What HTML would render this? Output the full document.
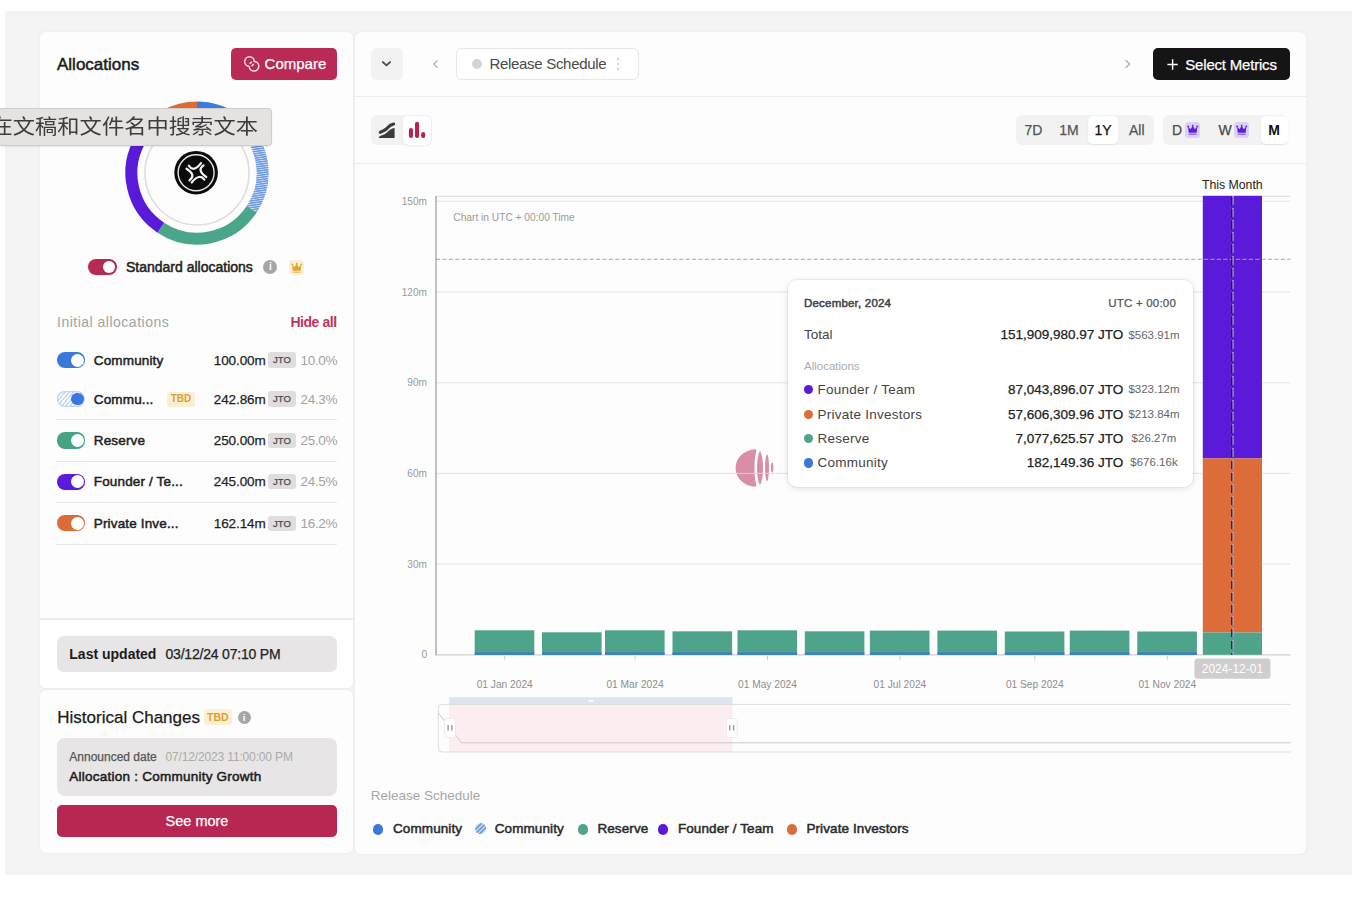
<!DOCTYPE html>
<html><head><meta charset="utf-8"><style>
html,body{margin:0;padding:0;}
body{width:1368px;height:898px;position:relative;overflow:hidden;background:#fff;font-family:"Liberation Sans", Arial, sans-serif;}
.t{position:absolute;line-height:1;white-space:nowrap;}
.r{position:absolute;}
</style></head><body>
<div class="r" style="left:5.00px;top:11.00px;width:1347.00px;height:864.00px;background:#f4f4f4;"></div>
<div class="r" style="left:40.00px;top:32.00px;width:313.00px;height:656.00px;background:#fdfdfd;border-radius:6px;box-shadow:0 0 2px rgba(0,0,0,0.05),0 0 6px rgba(0,0,0,0.025);"></div>
<div class="r" style="left:40.00px;top:619.00px;width:313.00px;height:69.00px;background:#ffffff;border-radius:0 0 6px 6px;"></div>
<div class="r" style="left:40.00px;top:690.00px;width:313.00px;height:163.00px;background:#fdfdfd;border-radius:6px;box-shadow:0 0 2px rgba(0,0,0,0.05),0 0 6px rgba(0,0,0,0.025);"></div>
<div class="r" style="left:354.60px;top:32.00px;width:951.70px;height:821.50px;background:#fdfdfd;border-radius:6px;box-shadow:0 0 2px rgba(0,0,0,0.05),0 0 6px rgba(0,0,0,0.025);"></div>
<div class="t" style="top:55.61px;font-size:17px;color:#1b1b1b;-webkit-text-stroke:0.5px currentColor;letter-spacing:0px;left:57.00px;">Allocations</div>
<div class="r" style="left:231.30px;top:47.80px;width:105.40px;height:32.20px;background:#b92a55;border-radius:5px;"></div>
<svg class="r" style="left:238px;top:52px" width="26" height="24" viewBox="238 52 26 24"><g fill="none" stroke="#f7e6ec" stroke-width="1.5"><path d="M254.3,61.41 A4.8,4.8 0 1 0 249.2,66.39 A4.8,4.8 0 1 0 254.3,61.41 Z"/><path d="M254.3,61.41 A4.8,4.8 0 0 1 249.2,66.39" stroke-dasharray="0 2.6 2.8 10"/><path d="M249.2,66.39 A4.8,4.8 0 0 1 254.3,61.41" stroke-dasharray="0 2.6 2.8 10"/></g></svg>
<div class="t" style="top:56.40px;font-size:15px;color:#fff;-webkit-text-stroke:0.25px currentColor;left:264.60px;">Compare</div>
<svg class="r" style="left:0;top:0" width="1368" height="898" viewBox="0 0 1368 898"><defs><pattern id="hatch" patternUnits="userSpaceOnUse" width="4" height="2.2" patternTransform="rotate(-8)"><rect width="4" height="2.2" fill="#d3e0f8"/><rect width="4" height="1.4" fill="#6a97e3"/></pattern></defs><path d="M197.00,107.40 A65.6,65.6 0 0 1 235.56,119.93" fill="none" stroke="#3b7ddd" stroke-width="11.999999999999993"/><path d="M235.56,119.93 A65.6,65.6 0 0 1 251.70,209.21" fill="none" stroke="url(#hatch)" stroke-width="11.999999999999993"/><path d="M251.70,209.21 A65.6,65.6 0 0 1 160.79,227.70" fill="none" stroke="#4aa58a" stroke-width="11.999999999999993"/><path d="M160.79,227.70 A65.6,65.6 0 0 1 141.19,138.53" fill="none" stroke="#5a1ad9" stroke-width="11.999999999999993"/><path d="M141.19,138.53 A65.6,65.6 0 0 1 197.00,107.40" fill="none" stroke="#de6b37" stroke-width="11.999999999999993"/><circle cx="197" cy="173" r="52" fill="none" stroke="#dedede" stroke-width="1.6"/><circle cx="196.1" cy="172.7" r="21.8" fill="#0a0a0a"/><circle cx="196.1" cy="172.7" r="18" fill="none" stroke="#e8e8e8" stroke-width="1.4"/><path d="M188.8,165.7 Q193.7,172.95 201,163.2 M203.6,165.4 Q196.3,169.8 206.2,177 M204.3,179.6 Q199.6,173.05 191.7,182.5 M189.4,180.3 Q196.65,175.1 186.5,168.7" fill="none" stroke="#f2f2f2" stroke-width="2.2" stroke-linecap="round"/></svg>
<div class="r" style="left:-2px;top:107.5px;width:274px;height:38.8px;background:#e6e2e1;border:1px solid #cfcbca;border-radius:4px;box-sizing:border-box;box-shadow:0 1px 2px rgba(0,0,0,0.08)"></div>
<div class="t" style="left:-9.6px;top:113.6px;font-size:22.3px;line-height:1;color:#3d3d3d;font-family:'Noto Sans CJK SC',sans-serif;transform:scale(1,0.915);transform-origin:0 50%">在文稿和文件名中搜索文本</div>
<div class="r" style="left:88.40px;top:258.60px;width:29.00px;height:16.20px;background:#b72a53;border-radius:8.1px;"></div>
<div class="r" style="left:103.40px;top:260.80px;width:12.00px;height:12.00px;background:#fff;border-radius:6px;"></div>
<div class="t" style="top:260.15px;font-size:14px;color:#222;-webkit-text-stroke:0.5px currentColor;letter-spacing:0px;left:126.00px;">Standard allocations</div>
<div class="r" style="left:263.4px;top:260px;width:14px;height:14px;border-radius:7px;background:#a6a6a6;color:#fff;font:bold 10px/14px 'Liberation Sans',sans-serif;text-align:center">i</div>
<div class="r" style="left:288.80px;top:259.60px;width:15.40px;height:15.00px;background:#fcf1d6;border-radius:3px;"></div>
<svg class="r" style="left:288.8px;top:259.6px" width="16" height="16" viewBox="0 0 16 16"><g fill="#e2a52c"><path d="M3.1,4.6 L5.5,7.3 L7.7,3.8 L9.9,7.3 L12.3,4.6 L11.7,10.7 L3.7,10.7 Z"/><circle cx="3.1" cy="4.4" r="0.9"/><circle cx="7.7" cy="3.6" r="0.9"/><circle cx="12.3" cy="4.4" r="0.9"/><rect x="3.7" y="11.5" width="8" height="1.4" rx="0.5" opacity="0.55"/></g></svg>
<div class="t" style="top:315.15px;font-size:14px;color:#a3a3a3;letter-spacing:0.5px;left:57.00px;">Initial allocations</div>
<div class="t" style="top:315.15px;font-size:14px;color:#bd3460;font-weight:700;letter-spacing:-0.45px;right:1031.40px;">Hide all</div>
<div class="r" style="left:56.60px;top:351.90px;width:28.50px;height:16.20px;background:#3a78dc;border-radius:8.1px;"></div>
<div class="r" style="left:70.90px;top:353.50px;width:13.00px;height:13.00px;background:#fff;border-radius:6.5px;"></div>
<div class="t" style="top:353.57px;font-size:13.5px;color:#1e1e1e;-webkit-text-stroke:0.5px currentColor;letter-spacing:0.15px;left:93.80px;">Community</div>
<div class="t" style="top:353.57px;font-size:13.5px;color:#1f1f1f;-webkit-text-stroke:0.25px currentColor;letter-spacing:-0.1px;left:213.80px;">100.00m</div>
<div class="r" style="left:267.90px;top:352.20px;width:28.00px;height:15.60px;background:#dfdddd;border-radius:3px;"></div>
<div class="t" style="top:355.46px;font-size:9.5px;color:#4a4a4a;-webkit-text-stroke:0.25px currentColor;left:-18.00px;width:600px;text-align:center;">JTO</div>
<div class="t" style="top:353.57px;font-size:13.5px;color:#a3a3a3;letter-spacing:-0.3px;left:300.50px;">10.0%</div>
<div class="r" style="left:56.6px;top:390.9px;width:28.5px;height:16.2px;border-radius:8.1px;background:repeating-linear-gradient(-50deg,#fff 0 1.6px,#c9d8f4 1.6px 3.2px);box-shadow:inset 0 0 0 1.2px #c3d4f3"></div>
<div class="r" style="left:71.20px;top:392.80px;width:12.40px;height:12.40px;background:#3a78dc;border-radius:6.2px;"></div>
<div class="t" style="top:392.57px;font-size:13.5px;color:#1e1e1e;-webkit-text-stroke:0.5px currentColor;letter-spacing:0.15px;left:93.80px;">Commu...</div>
<div class="r" style="left:167.00px;top:391.50px;width:28.00px;height:15.00px;background:#fbefd3;border-radius:3px;"></div>
<div class="t" style="top:394.14px;font-size:10px;color:#d8a233;font-weight:700;left:-119.00px;width:600px;text-align:center;">TBD</div>
<div class="t" style="top:392.57px;font-size:13.5px;color:#1f1f1f;-webkit-text-stroke:0.25px currentColor;letter-spacing:-0.1px;left:213.80px;">242.86m</div>
<div class="r" style="left:267.90px;top:391.20px;width:28.00px;height:15.60px;background:#dfdddd;border-radius:3px;"></div>
<div class="t" style="top:394.46px;font-size:9.5px;color:#4a4a4a;-webkit-text-stroke:0.25px currentColor;left:-18.00px;width:600px;text-align:center;">JTO</div>
<div class="t" style="top:392.57px;font-size:13.5px;color:#a3a3a3;letter-spacing:-0.3px;left:300.50px;">24.3%</div>
<div class="r" style="left:56.60px;top:432.40px;width:28.50px;height:16.20px;background:#46a386;border-radius:8.1px;"></div>
<div class="r" style="left:70.90px;top:434.00px;width:13.00px;height:13.00px;background:#fff;border-radius:6.5px;"></div>
<div class="t" style="top:434.07px;font-size:13.5px;color:#1e1e1e;-webkit-text-stroke:0.5px currentColor;letter-spacing:0.15px;left:93.80px;">Reserve</div>
<div class="t" style="top:434.07px;font-size:13.5px;color:#1f1f1f;-webkit-text-stroke:0.25px currentColor;letter-spacing:-0.1px;left:213.80px;">250.00m</div>
<div class="r" style="left:267.90px;top:432.70px;width:28.00px;height:15.60px;background:#dfdddd;border-radius:3px;"></div>
<div class="t" style="top:435.96px;font-size:9.5px;color:#4a4a4a;-webkit-text-stroke:0.25px currentColor;left:-18.00px;width:600px;text-align:center;">JTO</div>
<div class="t" style="top:434.07px;font-size:13.5px;color:#a3a3a3;letter-spacing:-0.3px;left:300.50px;">25.0%</div>
<div class="r" style="left:56.60px;top:473.50px;width:28.50px;height:16.20px;background:#5a1ad9;border-radius:8.1px;"></div>
<div class="r" style="left:70.90px;top:475.10px;width:13.00px;height:13.00px;background:#fff;border-radius:6.5px;"></div>
<div class="t" style="top:475.17px;font-size:13.5px;color:#1e1e1e;-webkit-text-stroke:0.5px currentColor;letter-spacing:0.15px;left:93.80px;">Founder / Te...</div>
<div class="t" style="top:475.17px;font-size:13.5px;color:#1f1f1f;-webkit-text-stroke:0.25px currentColor;letter-spacing:-0.1px;left:213.80px;">245.00m</div>
<div class="r" style="left:267.90px;top:473.80px;width:28.00px;height:15.60px;background:#dfdddd;border-radius:3px;"></div>
<div class="t" style="top:477.06px;font-size:9.5px;color:#4a4a4a;-webkit-text-stroke:0.25px currentColor;left:-18.00px;width:600px;text-align:center;">JTO</div>
<div class="t" style="top:475.17px;font-size:13.5px;color:#a3a3a3;letter-spacing:-0.3px;left:300.50px;">24.5%</div>
<div class="r" style="left:56.60px;top:515.20px;width:28.50px;height:16.20px;background:#de6b37;border-radius:8.1px;"></div>
<div class="r" style="left:70.90px;top:516.80px;width:13.00px;height:13.00px;background:#fff;border-radius:6.5px;"></div>
<div class="t" style="top:516.87px;font-size:13.5px;color:#1e1e1e;-webkit-text-stroke:0.5px currentColor;letter-spacing:0.15px;left:93.80px;">Private Inve...</div>
<div class="t" style="top:516.87px;font-size:13.5px;color:#1f1f1f;-webkit-text-stroke:0.25px currentColor;letter-spacing:-0.1px;left:213.80px;">162.14m</div>
<div class="r" style="left:267.90px;top:515.50px;width:28.00px;height:15.60px;background:#dfdddd;border-radius:3px;"></div>
<div class="t" style="top:518.76px;font-size:9.5px;color:#4a4a4a;-webkit-text-stroke:0.25px currentColor;left:-18.00px;width:600px;text-align:center;">JTO</div>
<div class="t" style="top:516.87px;font-size:13.5px;color:#a3a3a3;letter-spacing:-0.3px;left:300.50px;">16.2%</div>
<div class="r" style="left:56.00px;top:419.10px;width:281.00px;height:1.00px;background:#e8e8e8;"></div>
<div class="r" style="left:56.00px;top:460.50px;width:281.00px;height:1.00px;background:#e8e8e8;"></div>
<div class="r" style="left:56.00px;top:501.50px;width:281.00px;height:1.00px;background:#e8e8e8;"></div>
<div class="r" style="left:56.00px;top:543.50px;width:281.00px;height:1.00px;background:#e8e8e8;"></div>
<div class="r" style="left:40.00px;top:617.80px;width:313.00px;height:1.80px;background:#ebebeb;filter:blur(0.3px);"></div>
<div class="r" style="left:56.80px;top:635.50px;width:280.20px;height:36.00px;background:#e7e5e5;border-radius:7px;"></div>
<div class="t" style="top:646.55px;font-size:14px;color:#1b1b1b;font-weight:700;letter-spacing:0px;left:69.30px;">Last updated</div>
<div class="t" style="top:646.55px;font-size:14px;color:#222;-webkit-text-stroke:0.25px currentColor;letter-spacing:-0.2px;left:165.50px;">03/12/24 07:10 PM</div>
<div class="t" style="top:708.61px;font-size:17px;color:#1b1b1b;-webkit-text-stroke:0.25px currentColor;left:57.30px;">Historical Changes</div>
<div class="r" style="left:204.00px;top:709.40px;width:27.80px;height:15.40px;background:#fcefd2;border-radius:3px;"></div>
<div class="t" style="top:712.11px;font-size:10.5px;color:#d9a12e;font-weight:700;left:-82.10px;width:600px;text-align:center;">TBD</div>
<div class="r" style="left:237.5px;top:710.8px;width:13px;height:13px;border-radius:7px;background:#a6a6a6;color:#fff;font:bold 9.5px/13px 'Liberation Sans',sans-serif;text-align:center">i</div>
<div class="r" style="left:56.80px;top:737.70px;width:280.20px;height:58.70px;background:#e7e5e5;border-radius:8px;"></div>
<div class="t" style="top:750.84px;font-size:12px;color:#555;-webkit-text-stroke:0.25px currentColor;left:69.30px;">Announced date</div>
<div class="t" style="top:750.84px;font-size:12px;color:#ababab;letter-spacing:-0.15px;left:165.50px;">07/12/2023 11:00:00 PM</div>
<div class="t" style="top:769.57px;font-size:13.5px;color:#1b1b1b;-webkit-text-stroke:0.5px currentColor;letter-spacing:0.24px;left:69.30px;">Allocation : Community Growth</div>
<div class="r" style="left:56.80px;top:804.80px;width:280.20px;height:31.80px;background:#b82752;border-radius:5px;"></div>
<div class="t" style="top:813.73px;font-size:14.5px;color:#fff;-webkit-text-stroke:0.25px currentColor;left:-103.00px;width:600px;text-align:center;">See more</div>
<div class="r" style="left:370.50px;top:48.00px;width:32.00px;height:32.00px;background:#f2f2f2;border-radius:6px;"></div>
<svg class="r" style="left:380px;top:58px" width="12" height="12" viewBox="0 0 12 12"><path d="M2.8,4.1 L6.45,7.3 L10.1,4.1" fill="none" stroke="#4f4f4f" stroke-width="1.9" stroke-linecap="round" stroke-linejoin="round"/></svg>
<svg class="r" style="left:430px;top:58px" width="12" height="12" viewBox="0 0 12 12"><path d="M7,3 L3.8,6.1 L7,9.2" fill="none" stroke="#b3b3b3" stroke-width="1.4" stroke-linecap="round" stroke-linejoin="round"/></svg>
<div class="r" style="left:456px;top:48px;width:183px;height:32px;box-sizing:border-box;border:1px solid #e6e6e6;border-radius:6px;background:#fff"></div>
<div class="r" style="left:471.60px;top:58.80px;width:10.50px;height:10.50px;background:#d3d3d3;border-radius:5.3px;"></div>
<div class="t" style="top:56.40px;font-size:15px;color:#4a4a4a;letter-spacing:-0.3px;left:489.40px;">Release Schedule</div>
<div class="r" style="left:617.00px;top:58.20px;width:1.80px;height:1.80px;background:#c6c6c6;border-radius:1px;"></div>
<div class="r" style="left:617.00px;top:63.20px;width:1.80px;height:1.80px;background:#c6c6c6;border-radius:1px;"></div>
<div class="r" style="left:617.00px;top:68.20px;width:1.80px;height:1.80px;background:#c6c6c6;border-radius:1px;"></div>
<svg class="r" style="left:1122px;top:58px" width="12" height="12" viewBox="0 0 12 12"><path d="M4,2.4 L7.6,6.1 L4,9.6" fill="none" stroke="#b3b3b3" stroke-width="1.4" stroke-linecap="round" stroke-linejoin="round"/></svg>
<div class="r" style="left:1152.50px;top:47.70px;width:137.50px;height:32.30px;background:#151515;border-radius:5px;"></div>
<svg class="r" style="left:1166px;top:57.5px" width="13" height="13" viewBox="0 0 13 13"><path d="M6.6,1.3 V11.7 M1.4,6.5 H11.8" stroke="#fff" stroke-width="1.5"/></svg>
<div class="t" style="top:56.50px;font-size:15px;color:#fff;-webkit-text-stroke:0.25px currentColor;letter-spacing:-0.2px;left:1185.30px;">Select Metrics</div>
<div class="r" style="left:355.00px;top:96.00px;width:951.00px;height:1.00px;background:#ececec;"></div>
<div class="r" style="left:370.50px;top:114.50px;width:61.50px;height:30.00px;background:#f2f2f2;border-radius:6px;"></div>
<div class="r" style="left:402.80px;top:115.60px;width:28.70px;height:29.70px;background:#fff;border-radius:5px;box-shadow:0 1px 2px rgba(0,0,0,0.08);"></div>
<svg class="r" style="left:0;top:0" width="440" height="150" viewBox="0 0 440 150"><path d="M380.2,132.4 C382.5,130.6 384.6,130.9 386.4,128.9 C388.3,126.8 389.6,124.8 393.6,124" fill="none" stroke="#3b3b3b" stroke-width="3.1" stroke-linecap="round"/><path d="M378.8,137.9 V136.9 C381.3,135.2 384,135.2 386.3,133.1 C388.6,131 390.3,128.9 394.6,128.1 V137.9 Z" fill="#3b3b3b"/><g fill="#b8234e"><rect x="408.9" y="127.9" width="4.1" height="10" rx="2"/><rect x="415" y="121.8" width="4.1" height="16.1" rx="2"/><rect x="421.1" y="132" width="4.1" height="5.9" rx="2"/></g></svg>
<div class="r" style="left:1016.00px;top:114.60px;width:138.00px;height:30.90px;background:#f2f2f2;border-radius:6px;"></div>
<div class="r" style="left:1088.40px;top:115.80px;width:29.60px;height:28.50px;background:#fff;border-radius:5px;box-shadow:0 1px 2px rgba(0,0,0,0.07);"></div>
<div class="t" style="top:122.95px;font-size:14px;color:#555;-webkit-text-stroke:0.25px currentColor;left:733.50px;width:600px;text-align:center;">7D</div>
<div class="t" style="top:122.95px;font-size:14px;color:#555;-webkit-text-stroke:0.25px currentColor;left:769.00px;width:600px;text-align:center;">1M</div>
<div class="t" style="top:122.95px;font-size:14px;color:#111;-webkit-text-stroke:0.25px currentColor;left:803.00px;width:600px;text-align:center;">1Y</div>
<div class="t" style="top:122.95px;font-size:14px;color:#555;-webkit-text-stroke:0.25px currentColor;left:836.80px;width:600px;text-align:center;">All</div>
<div class="r" style="left:1163.00px;top:114.60px;width:125.20px;height:30.90px;background:#f2f2f2;border-radius:6px;"></div>
<div class="r" style="left:1260.80px;top:115.80px;width:26.90px;height:28.50px;background:#fff;border-radius:5px;box-shadow:0 1px 2px rgba(0,0,0,0.07);"></div>
<div class="t" style="top:122.95px;font-size:14px;color:#4a4a4a;-webkit-text-stroke:0.25px currentColor;left:877.00px;width:600px;text-align:center;">D</div>
<div class="t" style="top:122.95px;font-size:14px;color:#4a4a4a;-webkit-text-stroke:0.25px currentColor;left:925.00px;width:600px;text-align:center;">W</div>
<div class="t" style="top:123.15px;font-size:14px;color:#111;font-weight:700;left:974.00px;width:600px;text-align:center;">M</div>
<div class="r" style="left:1184.80px;top:121.60px;width:15.40px;height:16.10px;background:#ddd0f7;border-radius:3.5px;"></div>
<svg class="r" style="left:1184.8px;top:121.6px" width="16" height="16" viewBox="0 0 16 16"><g fill="#5b1fe0"><path d="M3.1,4.6 L5.5,7.3 L7.7,3.8 L9.9,7.3 L12.3,4.6 L11.7,10.7 L3.7,10.7 Z"/><circle cx="3.1" cy="4.4" r="0.9"/><circle cx="7.7" cy="3.6" r="0.9"/><circle cx="12.3" cy="4.4" r="0.9"/><rect x="3.7" y="11.5" width="8" height="1.4" rx="0.5" opacity="0.55"/></g></svg>
<div class="r" style="left:1234.00px;top:121.60px;width:15.40px;height:16.10px;background:#ddd0f7;border-radius:3.5px;"></div>
<svg class="r" style="left:1234.0px;top:121.6px" width="16" height="16" viewBox="0 0 16 16"><g fill="#5b1fe0"><path d="M3.1,4.6 L5.5,7.3 L7.7,3.8 L9.9,7.3 L12.3,4.6 L11.7,10.7 L3.7,10.7 Z"/><circle cx="3.1" cy="4.4" r="0.9"/><circle cx="7.7" cy="3.6" r="0.9"/><circle cx="12.3" cy="4.4" r="0.9"/><rect x="3.7" y="11.5" width="8" height="1.4" rx="0.5" opacity="0.55"/></g></svg>
<div class="r" style="left:355.00px;top:162.50px;width:951.00px;height:1.00px;background:#ececec;"></div>
<svg class="r" style="left:0;top:0" width="1368" height="898" viewBox="0 0 1368 898" font-family="Liberation Sans, Arial, sans-serif"><line x1="436" y1="196.3" x2="1290.5" y2="196.3" stroke="#dcdcdc" stroke-width="1"/><text x="427" y="658.4" font-size="10.1" fill="#9b9b9b" text-anchor="end">0</text><line x1="436" y1="564.1" x2="1290.5" y2="564.1" stroke="#e4e4e4" stroke-width="1"/><text x="427" y="567.7" font-size="10.1" fill="#9b9b9b" text-anchor="end">30m</text><line x1="436" y1="473.4" x2="1290.5" y2="473.4" stroke="#e4e4e4" stroke-width="1"/><text x="427" y="477.0" font-size="10.1" fill="#9b9b9b" text-anchor="end">60m</text><line x1="436" y1="382.7" x2="1290.5" y2="382.7" stroke="#e4e4e4" stroke-width="1"/><text x="427" y="386.3" font-size="10.1" fill="#9b9b9b" text-anchor="end">90m</text><line x1="436" y1="292.0" x2="1290.5" y2="292.0" stroke="#e4e4e4" stroke-width="1"/><text x="427" y="295.6" font-size="10.1" fill="#9b9b9b" text-anchor="end">120m</text><line x1="436" y1="201.3" x2="1290.5" y2="201.3" stroke="#e4e4e4" stroke-width="1"/><text x="427" y="204.9" font-size="10.1" fill="#9b9b9b" text-anchor="end">150m</text><line x1="436" y1="654.8" x2="1290.5" y2="654.8" stroke="#d0d0d0" stroke-width="1.2"/><rect x="474.7" y="630.3" width="59.6" height="24.5" fill="#4ea38b"/><rect x="474.7" y="652.5" width="59.6" height="2.3" fill="#3c78d8"/><rect x="542.0" y="632.3" width="59.6" height="22.5" fill="#4ea38b"/><rect x="542.0" y="652.5" width="59.6" height="2.3" fill="#3c78d8"/><rect x="605.0" y="630.3" width="59.6" height="24.5" fill="#4ea38b"/><rect x="605.0" y="652.5" width="59.6" height="2.3" fill="#3c78d8"/><rect x="672.5" y="631.3" width="59.6" height="23.5" fill="#4ea38b"/><rect x="672.5" y="652.5" width="59.6" height="2.3" fill="#3c78d8"/><rect x="737.5" y="630.3" width="59.6" height="24.5" fill="#4ea38b"/><rect x="737.5" y="652.5" width="59.6" height="2.3" fill="#3c78d8"/><rect x="804.8" y="631.3" width="59.6" height="23.5" fill="#4ea38b"/><rect x="804.8" y="652.5" width="59.6" height="2.3" fill="#3c78d8"/><rect x="869.9" y="630.6" width="59.6" height="24.2" fill="#4ea38b"/><rect x="869.9" y="652.5" width="59.6" height="2.3" fill="#3c78d8"/><rect x="937.4" y="630.6" width="59.6" height="24.2" fill="#4ea38b"/><rect x="937.4" y="652.5" width="59.6" height="2.3" fill="#3c78d8"/><rect x="1004.8" y="631.5" width="59.6" height="23.3" fill="#4ea38b"/><rect x="1004.8" y="652.5" width="59.6" height="2.3" fill="#3c78d8"/><rect x="1069.8" y="630.6" width="59.6" height="24.2" fill="#4ea38b"/><rect x="1069.8" y="652.5" width="59.6" height="2.3" fill="#3c78d8"/><rect x="1137.3" y="631.5" width="59.6" height="23.3" fill="#4ea38b"/><rect x="1137.3" y="652.5" width="59.6" height="2.3" fill="#3c78d8"/><rect x="1202.8" y="195.8" width="59.2" height="262.6" fill="#5a1ad9"/><rect x="1202.8" y="458.4" width="59.2" height="174.1" fill="#dc6c3a"/><rect x="1202.8" y="632.5" width="59.2" height="22.3" fill="#4ea38b"/><line x1="436" y1="259.3" x2="1290.5" y2="259.3" stroke="#a9a9a9" stroke-width="1" stroke-dasharray="4.2 2.2"/><line x1="436" y1="196" x2="436" y2="655.3" stroke="#9a9a9a" stroke-width="1.2"/><line x1="1232.9" y1="196" x2="1232.9" y2="654.8" stroke="#b9acdf" stroke-width="1.4" stroke-dasharray="9 3"/><line x1="1231.8000000000002" y1="196" x2="1231.8000000000002" y2="654.8" stroke="#111" stroke-width="1.1" stroke-dasharray="8 4" stroke-dashoffset="-1"/><text x="1232.3" y="188.6" font-size="12.3" fill="#222" text-anchor="middle">This Month</text><text x="453.3" y="221.2" font-size="10.2" fill="#9a9a9a">Chart in UTC + 00:00 Time</text><line x1="504.7" y1="655.8" x2="504.7" y2="660.3" stroke="#cfcfcf" stroke-width="1"/><text x="504.7" y="687.8" font-size="10.2" fill="#8e8e8e" text-anchor="middle">01 Jan 2024</text><line x1="635.0" y1="655.8" x2="635.0" y2="660.3" stroke="#cfcfcf" stroke-width="1"/><text x="635.0" y="687.8" font-size="10.2" fill="#8e8e8e" text-anchor="middle">01 Mar 2024</text><line x1="767.5" y1="655.8" x2="767.5" y2="660.3" stroke="#cfcfcf" stroke-width="1"/><text x="767.5" y="687.8" font-size="10.2" fill="#8e8e8e" text-anchor="middle">01 May 2024</text><line x1="899.9" y1="655.8" x2="899.9" y2="660.3" stroke="#cfcfcf" stroke-width="1"/><text x="899.9" y="687.8" font-size="10.2" fill="#8e8e8e" text-anchor="middle">01 Jul 2024</text><line x1="1034.8" y1="655.8" x2="1034.8" y2="660.3" stroke="#cfcfcf" stroke-width="1"/><text x="1034.8" y="687.8" font-size="10.2" fill="#8e8e8e" text-anchor="middle">01 Sep 2024</text><line x1="1167.3" y1="655.8" x2="1167.3" y2="660.3" stroke="#cfcfcf" stroke-width="1"/><text x="1167.3" y="687.8" font-size="10.2" fill="#8e8e8e" text-anchor="middle">01 Nov 2024</text><rect x="1194.5" y="658.5" width="75.9" height="20.3" rx="3" fill="#cfcdcd"/><text x="1232.4" y="672.9" font-size="12" fill="#fff" text-anchor="middle">2024-12-01</text><rect x="449.2" y="697.2" width="283.3" height="7.2" fill="#dfe3f1"/><rect x="588.5" y="699.8" width="5" height="2" fill="#fff" opacity="0.9"/><rect x="449.2" y="704.4" width="283.3" height="47.6" fill="#fcedf1"/><path d="M1290.5,704.4 H442.3 Q438.3,704.4 438.3,708.4 V748 Q438.3,752 442.3,752 H1290.5" fill="none" stroke="#dcdcdc" stroke-width="1"/><path d="M438.3,713 L461.7,742.8 H1290.5" fill="none" stroke="#c9c9c9" stroke-width="1"/><rect x="444.5" y="718.5" width="11" height="19" rx="3" fill="#fff" stroke="#e6e6e6" stroke-width="0.8"/><rect x="447.4" y="725" width="1.4" height="5.5" fill="#999"/><rect x="451.2" y="725" width="1.4" height="5.5" fill="#999"/><rect x="726.2" y="718.5" width="11" height="19" rx="3" fill="#fff" stroke="#e6e6e6" stroke-width="0.8"/><rect x="729.1" y="725" width="1.4" height="5.5" fill="#999"/><rect x="732.9" y="725" width="1.4" height="5.5" fill="#999"/><g fill="#d98ea8"><path d="M755.6,449.2 Q756.6,449.4 756.4,450.6 C754.9,456 754.5,462 754.5,468 C754.5,474 754.9,480 756.4,485.4 Q756.6,486.6 755.6,486.8 C744,486.5 735.6,478 735.6,468 C735.6,458 744,449.5 755.6,449.2 Z"/><path d="M760,450.4 C757.5,456 757,462 757,468 C757,474 757.5,480 760,485.5 C762.5,480 763,474 763,468 C763,462 762.5,456 760,450.4 Z"/><ellipse cx="767" cy="467.7" rx="2" ry="13.3"/><ellipse cx="772.2" cy="467.5" rx="1.2" ry="5"/></g><line x1="735" y1="473.4" x2="774" y2="473.4" stroke="#e4e4e4" stroke-width="1" opacity="0.7"/></svg>
<div class="r" style="left:787.7px;top:279.8px;width:405.3px;height:207.6px;background:#fff;border-radius:9px;box-shadow:0 1px 6px rgba(0,0,0,0.13),0 0 0 1px rgba(0,0,0,0.04)"></div>
<div class="t" style="top:297.57px;font-size:11.5px;color:#444;-webkit-text-stroke:0.5px currentColor;letter-spacing:0.2px;left:804.00px;">December, 2024</div>
<div class="t" style="top:297.57px;font-size:11.5px;color:#555;-webkit-text-stroke:0.25px currentColor;letter-spacing:0.2px;right:192.00px;">UTC + 00:00</div>
<div class="t" style="top:328.37px;font-size:13.5px;color:#444;left:804.00px;">Total</div>
<div class="t" style="top:328.37px;font-size:13.5px;color:#222;-webkit-text-stroke:0.25px currentColor;right:244.70px;">151,909,980.97 JTO</div>
<div class="t" style="top:329.87px;font-size:11.5px;color:#666;left:854.00px;width:600px;text-align:center;">$563.91m</div>
<div class="t" style="top:361.07px;font-size:11.5px;color:#ababab;left:804.00px;">Allocations</div>
<div class="r" style="left:803.80px;top:384.90px;width:9.60px;height:9.60px;background:#5a1ad9;border-radius:5px;"></div>
<div class="t" style="top:383.07px;font-size:13.5px;color:#444;letter-spacing:0.25px;left:817.50px;">Founder / Team</div>
<div class="t" style="top:383.07px;font-size:13.5px;color:#222;-webkit-text-stroke:0.25px currentColor;right:244.70px;">87,043,896.07 JTO</div>
<div class="t" style="top:384.17px;font-size:11.5px;color:#666;left:854.00px;width:600px;text-align:center;">$323.12m</div>
<div class="r" style="left:803.80px;top:409.50px;width:9.60px;height:9.60px;background:#dc6c3a;border-radius:5px;"></div>
<div class="t" style="top:407.67px;font-size:13.5px;color:#444;letter-spacing:0.25px;left:817.50px;">Private Investors</div>
<div class="t" style="top:407.67px;font-size:13.5px;color:#222;-webkit-text-stroke:0.25px currentColor;right:244.70px;">57,606,309.96 JTO</div>
<div class="t" style="top:408.77px;font-size:11.5px;color:#666;left:854.00px;width:600px;text-align:center;">$213.84m</div>
<div class="r" style="left:803.80px;top:433.80px;width:9.60px;height:9.60px;background:#4ea38b;border-radius:5px;"></div>
<div class="t" style="top:431.97px;font-size:13.5px;color:#444;letter-spacing:0.25px;left:817.50px;">Reserve</div>
<div class="t" style="top:431.97px;font-size:13.5px;color:#222;-webkit-text-stroke:0.25px currentColor;right:244.70px;">7,077,625.57 JTO</div>
<div class="t" style="top:433.07px;font-size:11.5px;color:#666;left:854.00px;width:600px;text-align:center;">$26.27m</div>
<div class="r" style="left:803.80px;top:458.00px;width:9.60px;height:9.60px;background:#3c78d8;border-radius:5px;"></div>
<div class="t" style="top:456.17px;font-size:13.5px;color:#444;letter-spacing:0.25px;left:817.50px;">Community</div>
<div class="t" style="top:456.17px;font-size:13.5px;color:#222;-webkit-text-stroke:0.25px currentColor;right:244.70px;">182,149.36 JTO</div>
<div class="t" style="top:457.27px;font-size:11.5px;color:#666;left:854.00px;width:600px;text-align:center;">$676.16k</div>
<div class="t" style="top:789.37px;font-size:13.5px;color:#a8a8a8;left:370.70px;">Release Schedule</div>
<div class="r" style="left:373.10px;top:824.30px;width:10.40px;height:10.40px;background:#3c78d8;border-radius:5.2px;"></div>
<div class="t" style="top:822.17px;font-size:13.5px;color:#2a2a2a;-webkit-text-stroke:0.5px currentColor;letter-spacing:0.1px;left:393.00px;">Community</div>
<svg class="r" style="left:474.8px;top:823.4px" width="11.2" height="11.2" viewBox="0 0 11.2 11.2"><defs><clipPath id="lc"><circle cx="5.6" cy="5.6" r="5.6"/></clipPath></defs><g clip-path="url(#lc)"><rect width="11.2" height="11.2" fill="#c9ddf3"/><g stroke="#6a9ade" stroke-width="1.7"><line x1="0" y1="6.96" x2="6.96" y2="0"/><line x1="0" y1="11.2" x2="11.2" y2="0"/><line x1="4.24" y1="11.2" x2="11.2" y2="4.24"/></g></g></svg>
<div class="t" style="top:822.17px;font-size:13.5px;color:#2a2a2a;-webkit-text-stroke:0.5px currentColor;letter-spacing:0.1px;left:494.70px;">Community</div>
<div class="r" style="left:577.50px;top:824.30px;width:10.40px;height:10.40px;background:#4ea38b;border-radius:5.2px;"></div>
<div class="t" style="top:822.17px;font-size:13.5px;color:#2a2a2a;-webkit-text-stroke:0.5px currentColor;letter-spacing:0.1px;left:597.40px;">Reserve</div>
<div class="r" style="left:658.00px;top:824.30px;width:10.40px;height:10.40px;background:#5a1ad9;border-radius:5.2px;"></div>
<div class="t" style="top:822.17px;font-size:13.5px;color:#2a2a2a;-webkit-text-stroke:0.5px currentColor;letter-spacing:0.1px;left:677.90px;">Founder / Team</div>
<div class="r" style="left:786.50px;top:824.30px;width:10.40px;height:10.40px;background:#dc6c3a;border-radius:5.2px;"></div>
<div class="t" style="top:822.17px;font-size:13.5px;color:#2a2a2a;-webkit-text-stroke:0.5px currentColor;letter-spacing:0.1px;left:806.40px;">Private Investors</div>
</body></html>
